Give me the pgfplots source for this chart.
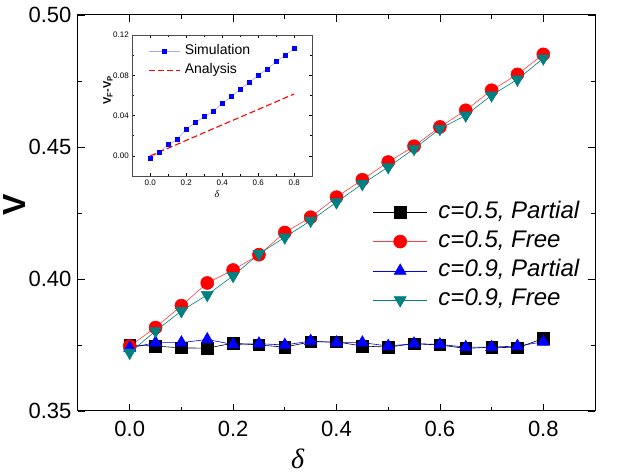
\documentclass[border=0pt]{standalone}
\usepackage{pgfplots}
\pgfplotsset{compat=1.18}
\usepackage{fontspec}
\setmainfont{Liberation Sans}
\newfontfamily\seriffont{Liberation Serif}
\definecolor{tealc}{RGB}{0,128,128}
\definecolor{simline}{RGB}{170,170,255}
\definecolor{redline}{RGB}{255,60,60}
\begin{document}
\begin{tikzpicture}
\useasboundingbox (-78pt,-63pt) rectangle (541pt,411pt);
\begin{axis}[
 at={(0pt,0pt)}, anchor=south west,
 scale only axis, width=517pt, height=396pt,
 xmin=-0.1, xmax=0.9, ymin=0.35, ymax=0.50,
 xtick={0,0.2,0.4,0.6,0.8}, minor x tick num=1,
 ytick={0.35,0.40,0.45,0.50}, minor y tick num=1,
 tick align=inside, major tick length=7pt, minor tick length=4pt,
 tick style={black, line width=0.8pt},
 axis line style={line width=1pt},
 /pgf/number format/assume math mode=true,
 x tick label style={/pgf/number format/fixed, /pgf/number format/fixed zerofill, /pgf/number format/precision=1, yshift=-7pt},
 y tick label style={/pgf/number format/fixed, /pgf/number format/fixed zerofill, /pgf/number format/precision=2, xshift=-3pt},
 tick label style={font=\fontsize{22}{26}\selectfont},
 xlabel={\seriffont\itshape δ},
 xlabel style={font=\fontsize{28}{32}\selectfont, at={(axis description cs:0.425,0)}, anchor=north, inner sep=0pt, yshift=-38pt},
 ylabel={\bfseries V},
 ylabel style={font=\fontsize{32}{36}\selectfont, at={(axis description cs:-0.1225,0.52)}, anchor=center, inner sep=0pt},
 legend style={at={(rel axis cs:0.57,0.532)}, anchor=north west, draw=none, fill=none,
   font=\fontsize{24}{28}\selectfont\itshape, inner sep=0pt, row sep=5.8pt, column sep=11pt,
   nodes={inner sep=0pt, text height=17.5pt, text depth=6pt}},
 legend cell align=left,
 legend image code/.code={\draw[mark repeat=2,mark phase=2] plot coordinates {(0pt,0pt)(27pt,0pt)(54pt,0pt)};},
]
\addplot[black, line width=0.6pt, mark=square*, mark size=5.8pt, mark options={solid}] coordinates {
(0,0.3750) (0.05,0.3746) (0.10,0.3739) (0.15,0.3738) (0.20,0.3757) (0.25,0.3750) (0.30,0.3742) (0.35,0.3762) (0.40,0.3762) (0.45,0.3746) (0.50,0.3742) (0.55,0.3755) (0.60,0.3750) (0.65,0.3737) (0.70,0.3742) (0.75,0.3739) (0.80,0.3775)};
\addlegendentry{c=0.5, Partial}
\addplot[redline, line width=0.6pt, mark=*, mark size=6.5pt, mark options={red, fill=red}] coordinates {
(0,0.3746) (0.05,0.3816) (0.10,0.3899) (0.15,0.3985) (0.20,0.4034) (0.25,0.4092) (0.30,0.4176) (0.35,0.4234) (0.40,0.4310) (0.45,0.4376) (0.50,0.4443) (0.55,0.4503) (0.60,0.4576) (0.65,0.4639) (0.70,0.4715) (0.75,0.4775) (0.80,0.4851)};
\addlegendentry{c=0.5, Free}
\addplot[blue, line width=0.6pt, mark=triangle*, mark size=6.9pt, mark options={blue, fill=blue}] coordinates {
(0,0.3739) (0.05,0.3759) (0.10,0.3759) (0.15,0.3771) (0.20,0.3752) (0.25,0.3755) (0.30,0.3750) (0.35,0.3765) (0.40,0.3759) (0.45,0.3759) (0.50,0.3746) (0.55,0.3755) (0.60,0.3752) (0.65,0.3742) (0.70,0.3742) (0.75,0.3746) (0.80,0.3762)};
\addlegendentry{c=0.9, Partial}
\addplot[tealc, line width=0.6pt, mark=triangle*, mark size=6.9pt, mark options={tealc, fill=tealc, rotate=180}] coordinates {
(0,0.3721) (0.05,0.3803) (0.10,0.3879) (0.15,0.3940) (0.20,0.4012) (0.25,0.4095) (0.30,0.4158) (0.35,0.4221) (0.40,0.4291) (0.45,0.4360) (0.50,0.4424) (0.55,0.4493) (0.60,0.4569) (0.65,0.4620) (0.70,0.4696) (0.75,0.4756) (0.80,0.4836)};
\addlegendentry{c=0.9, Free}
\end{axis}
\begin{axis}[
 at={(54.3pt,235pt)}, anchor=south west,
 scale only axis, width=180pt, height=141pt,
 axis background/.style={fill=white},
 xmin=-0.1, xmax=0.9, ymin=-0.02, ymax=0.12,
 xtick={0,0.2,0.4,0.6,0.8}, minor x tick num=1,
 ytick={0,0.04,0.08,0.12}, minor y tick num=1,
 tick align=inside, major tick length=3pt, minor tick length=2pt,
 tick style={black, line width=0.5pt},
 axis line style={line width=0.6pt, black!70},
 /pgf/number format/assume math mode=true,
 x tick label style={/pgf/number format/fixed, /pgf/number format/fixed zerofill, /pgf/number format/precision=1},
 y tick label style={/pgf/number format/fixed, /pgf/number format/fixed zerofill, /pgf/number format/precision=2},
 scaled y ticks=false,
 tick label style={font=\fontsize{8}{9}\selectfont},
 xlabel={\seriffont\itshape δ},
 xlabel style={font=\fontsize{10}{11}\selectfont, at={(axis description cs:0.47,0)}, anchor=north, inner sep=0pt, yshift=-14pt},
 ylabel={\bfseries V\textsubscript{F}-V\textsubscript{P}},
 ylabel style={font=\fontsize{11}{12}\selectfont, at={(axis description cs:-0.135,0.61)}, anchor=center, inner sep=0pt},
 legend style={at={(rel axis cs:0.09,0.933)}, anchor=north west, draw=none, fill=none,
   font=\fontsize{14}{16}\selectfont, inner sep=0pt, row sep=6pt, column sep=4pt,
   nodes={inner sep=0pt, text height=10pt, text depth=3pt}},
 legend cell align=left,
 legend image code/.code={\draw[mark repeat=2,mark phase=2] plot coordinates {(0pt,0pt)(15.5pt,0pt)(31pt,0pt)};},
]
\addplot[simline, line width=0.6pt, mark=square*, mark size=2pt, mark options={blue, fill=blue}] coordinates {
(0,-0.0023) (0.05,0.0036) (0.10,0.0112) (0.15,0.0165) (0.20,0.0264) (0.25,0.0331) (0.30,0.0390) (0.35,0.0443) (0.40,0.0522) (0.45,0.0588) (0.50,0.0664) (0.55,0.0731) (0.60,0.0800) (0.65,0.0863) (0.70,0.0936) (0.75,0.1002) (0.80,0.1064)};
\addlegendentry{Simulation}
\addplot[red, line width=1.1pt, dash pattern=on 6pt off 3pt] coordinates {
(0,0) (0.2,0.0154) (0.4,0.0308) (0.6,0.0461) (0.8,0.0615)};
\addlegendentry{Analysis}
\end{axis}
\end{tikzpicture}
\end{document}
